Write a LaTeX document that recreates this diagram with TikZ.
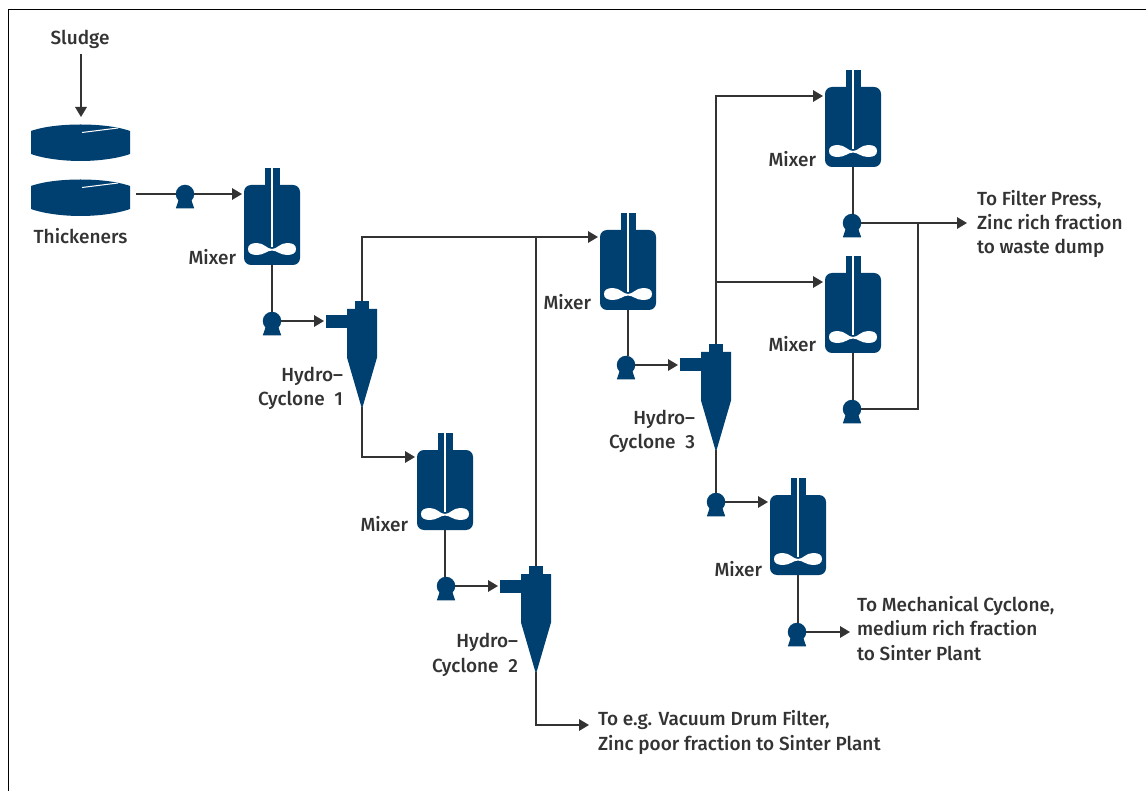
\documentclass[tikz,border=0pt]{standalone}
\usepackage{fontspec}
\setmainfont{Fira Sans Medium}
\usetikzlibrary{arrows.meta}
\definecolor{unitblue}{RGB}{0,64,112}
\definecolor{ink}{RGB}{51,51,51}
\tikzset{
  unitbody/.style={fill=unitblue,draw=none,inner sep=0pt,outer sep=0pt},
  mixerbody/.style={unitbody,rectangle,rounded corners=7pt,minimum width=56pt,minimum height=80pt},
  pumpbody/.style={unitbody,circle,minimum size=18.5pt},
  inletbody/.style={unitbody,rectangle,minimum width=21pt,minimum height=13pt},
  capbody/.style={unitbody,rectangle,minimum width=14pt,minimum height=8pt},
  pipe/.style={draw=ink,line width=1.6pt},
  flow/.style={pipe,-{Triangle[length=10pt,width=11.5pt]},shorten >=2pt},
  lab/.style={text=ink,font=\fontsize{19pt}{24.3pt}\selectfont,inner sep=0pt,outer sep=0pt},
  labr/.style={lab,anchor=base east,align=right},
  labl/.style={lab,anchor=base west},
}
% mixer: name, centre x, body top y
\newcommand{\mixerunit}[3]{%
  \node[mixerbody] (#1) at (#2,#3+40) {};
  \fill[unitblue] (#2-7.5,#3-17) rectangle (#2+7.5,#3+5);
  \draw[white,line width=1.5pt] (#2,#3-17) -- (#2,#3+62);
  \fill[white] (#2,#3+64)
     .. controls (#2+5,#3+64) and (#2+8,#3+58) .. (#2+15,#3+58)
     .. controls (#2+21,#3+58) and (#2+24,#3+60) .. (#2+24,#3+64)
     .. controls (#2+24,#3+68) and (#2+21,#3+70) .. (#2+15,#3+70)
     .. controls (#2+8,#3+70) and (#2+5,#3+65.5) .. (#2,#3+65.5)
     .. controls (#2-5,#3+65.5) and (#2-8,#3+70) .. (#2-15,#3+70)
     .. controls (#2-21,#3+70) and (#2-24,#3+68) .. (#2-24,#3+64)
     .. controls (#2-24,#3+60) and (#2-21,#3+58) .. (#2-15,#3+58)
     .. controls (#2-8,#3+58) and (#2-5,#3+64) .. (#2,#3+64) -- cycle;
}
% pump: name, x, y
\newcommand{\pumpunit}[3]{%
  \node[pumpbody] (#1) at (#2,#3) {};
  \fill[unitblue] (#2-6,#3+5) -- (#2+6,#3+5) -- (#2+9.2,#3+14.3) -- (#2-9.2,#3+14.3) -- cycle;
}
% cyclone: name, centre x, cap top y
\newcommand{\cycloneunit}[3]{%
  \node[capbody] (#1top) at (#2,#3+4) {};
  \node[inletbody] (#1in) at (#2-25.5,#3+20.5) {};
  \fill[unitblue] (#2-15,#3+8) -- (#2+15,#3+8) -- (#2+15,#3+56.5) -- (#2,#3+108) -- (#2-15,#3+56.5) -- cycle;
  \coordinate (#1tip) at (#2,#3+106);
}
\begin{document}
\begin{tikzpicture}[x=1pt,y=-1pt]
\useasboundingbox (0,0) rectangle (1146,791);
\fill[white] (0,0) rectangle (1146,791);
% frame
\draw[black,line width=1pt] (8,791) -- (8,9.5) -- (1146,9.5);

% thickeners
\foreach \t/\n in {0/thA,55/thB}{
  \fill[unitblue] (31,131+\t)
     .. controls (45,126+\t) and (65,124.5+\t) .. (80.5,124.5+\t)
     .. controls (96,124.5+\t) and (116,126+\t) .. (130,131+\t)
     -- (130,154+\t)
     .. controls (116,159+\t) and (96,161+\t) .. (80.5,161+\t)
     .. controls (65,161+\t) and (45,159+\t) .. (31,154+\t) -- cycle;
  \draw[white,line width=1pt] (82,132.5+\t) -- (118,128+\t);
}
\coordinate (thA) at (81,119);
\coordinate (thB) at (136,194);

% units
\mixerunit{m1}{272}{185}
\mixerunit{m2}{445}{450}
\mixerunit{m3}{628}{230}
\mixerunit{m4}{853}{87}
\mixerunit{m5}{853}{273}
\mixerunit{m6}{798}{495}
\pumpunit{p1}{185}{194}
\pumpunit{p2}{272}{321}
\pumpunit{p3}{446}{586}
\pumpunit{p4}{626}{365}
\pumpunit{p5}{852}{223}
\pumpunit{p6}{852}{409}
\pumpunit{p7}{716}{502}
\pumpunit{p8}{797}{632}
\cycloneunit{c1}{362}{301}
\cycloneunit{c2}{536}{566}
\cycloneunit{c3}{716}{344}

% text
\node[lab,anchor=base] (sludge) at (80,45) {Sludge};
\node[lab,anchor=base] (thick) at (80.5,244) {Thickeners};
\node[labr] (l1) at (236,265) {Mixer};
\node[labr] (l2) at (408,531) {Mixer};
\node[labr] (l3) at (591,310) {Mixer};
\node[labr] (l4) at (816,167) {Mixer};
\node[labr] (l5) at (816,352) {Mixer};
\node[labr] (l6) at (762,576) {Mixer};
\node[labr] (h1) at (343,406) {Hydro–\\Cyclone \kern5pt 1};
\node[labr] (h2) at (518,672) {Hydro–\\Cyclone \kern5pt 2};
\node[labr] (h3) at (695,449) {Hydro–\\Cyclone \kern5pt 3};
\node[lab,anchor=base west,align=left] (outA) at (977,254) {To Filter Press,\\Zinc rich fraction\\to waste dump};
\node[lab,anchor=base west,align=left] (outB) at (857,660) {To Mechanical Cyclone,\\medium rich fraction\\to Sinter Plant};
\node[lab,anchor=base west,align=left] (outC) at (598,750) {To e.g. Vacuum Drum Filter,\\Zinc poor fraction to Sinter Plant};

% free ends and junctions
\coordinate (sl) at (81,54);
\coordinate (a3) at (600,237);
\coordinate (j2) at (536,237);
\coordinate (j3) at (716,282);
\coordinate (e5) at (969,223);
\coordinate (j5) at (918,223);
\coordinate (e8) at (852,632);
\coordinate (e2) at (591,725);

% connectors
\draw[flow] (sl) -- (thA);
\draw[pipe] (thB) -- (p1);
\draw[flow] (p1.east) -- (m1.west |- p1);
\draw[pipe] (m1.south) -- (m1.south |- p2.north);
\draw[flow] (p2.east) -- (c1in.west |- p2.east);
\draw[flow] (c1top.north) |- (m3.west |- a3);
\draw[flow] (c1tip) |- (m2.west |- 0,457);
\draw[pipe] (m2.south) -- (m2.south |- p3.north);
\draw[flow] (p3.east) -- (c2in.west |- p3.east);
\draw[pipe] (c2top.north) -- (j2);
\draw[flow] (c2tip) |- (e2);
\draw[pipe] (m3.south) -- (m3.south |- p4.north);
\draw[flow] (p4.east) -- (c3in.west |- p4.east);
\draw[flow] (c3top.north) |- (m4.west |- 0,96);
\draw[flow] (j3) -- (m5.west |- j3);
\draw[pipe] (c3tip) -- (c3tip |- p7.north);
\draw[flow] (p7.east) -- (m6.west |- p7.east);
\draw[pipe] (m4.south) -- (m4.south |- p5.north);
\draw[flow] (p5.east) -- (e5);
\draw[pipe] (m5.south) -- (m5.south |- p6.north);
\draw[pipe] (p6.east) -| (j5);
\draw[pipe] (m6.south) -- (m6.south |- p8.north);
\draw[flow] (p8.east) -- (e8);
\end{tikzpicture}
\end{document}
